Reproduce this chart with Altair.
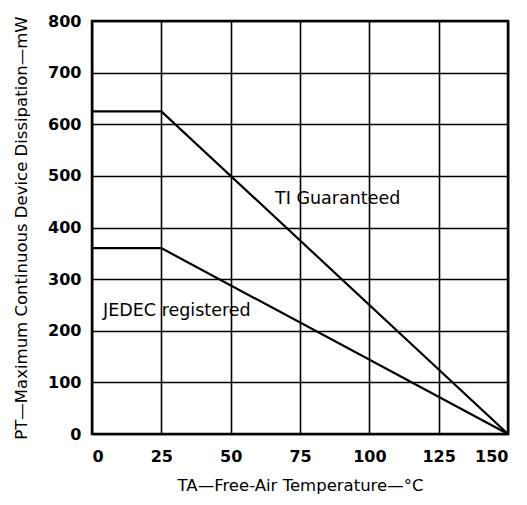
import altair as alt
import pandas as pd

temps = [0, 25, 150]
ti_guaranteed = [625, 625, 0]
jedec_registered = [360, 360, 0]

label_text = ["TI Guaranteed", "JEDEC registered"]
label_x = [66, 4]
label_y = [455, 238]

rows = []
for t, v in zip(temps, ti_guaranteed):
    rows.append({"t": t, "p": v, "s": "TI Guaranteed"})
for t, v in zip(temps, jedec_registered):
    rows.append({"t": t, "p": v, "s": "JEDEC registered"})
df = pd.DataFrame(rows)
lab = pd.DataFrame({"t": label_x, "p": label_y, "txt": label_text})

FONT = "DejaVu Sans"

x = alt.X("t:Q", scale=alt.Scale(domain=[0, 150], nice=False),
          axis=alt.Axis(values=[0, 25, 50, 75, 100, 125, 150], title="TA—Free-Air Temperature—°C",
                        ticks=False, labelPadding=14, titlePadding=13, domain=False))
y = alt.Y("p:Q", scale=alt.Scale(domain=[0, 800], nice=False),
          axis=alt.Axis(values=list(range(0, 801, 100)), title="PT—Maximum Continuous Device Dissipation—mW",
                        ticks=False, labelPadding=11, titlePadding=18, domain=False))

lines = alt.Chart(df).mark_line(color="black", strokeWidth=2.2).encode(x=x, y=y, detail="s:N")
texts = alt.Chart(lab).mark_text(align="left", baseline="middle", fontSize=17.5, font=FONT, color="black").encode(
    x="t:Q", y="p:Q", text="txt:N")

chart = (lines + texts).properties(width=416, height=413).configure_view(
    stroke="black", strokeWidth=2.5
).configure_axis(
    grid=True, gridColor="black", gridWidth=1.6, gridOpacity=1,
    labelFont=FONT, labelFontSize=16, labelFontWeight="bold", labelColor="black",
    titleFont=FONT, titleFontSize=16.5, titleFontWeight="normal", titleColor="black"
)

chart.save("out.html", embed_options={"renderer": "svg", "actions": False})
